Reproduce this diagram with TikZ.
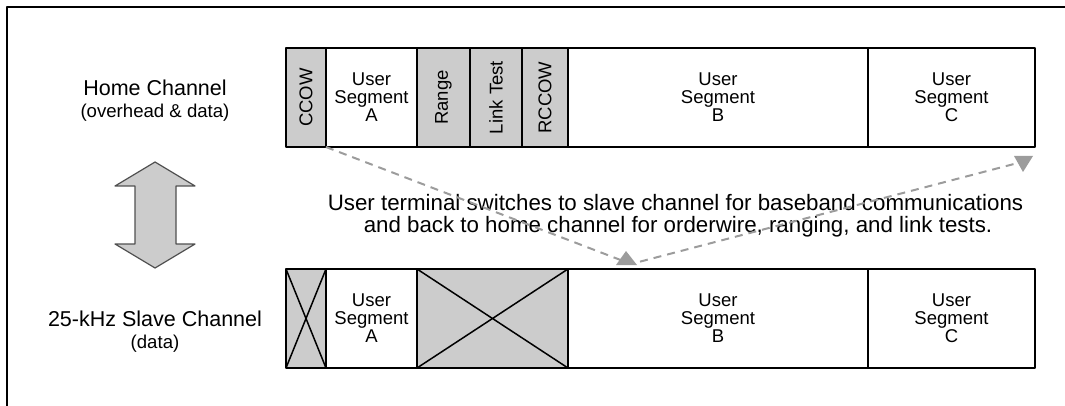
\documentclass[tikz,border=0pt]{standalone}
\usepackage{fontspec}
\setmainfont{Liberation Sans}
\definecolor{cellgray}{HTML}{CCCCCC}
\definecolor{dashgray}{HTML}{9C9C9C}
\definecolor{arrowedge}{HTML}{505050}
\newcommand{\celltxt}{\fontsize{18.5}{18}\selectfont}
\newcommand{\sidetxt}{\fontsize{18.5}{18.5}\selectfont}
\newcommand{\chantxt}{\fontsize{21.5}{21.5}\selectfont}
\newcommand{\subtxt}{\fontsize{18.6}{18.6}\selectfont}
\newcommand{\captxt}{\fontsize{22.3}{22.3}\selectfont}
\tikzset{
  cell/.style={draw, line width=1.8pt, minimum height=99pt, inner sep=0pt, outer sep=0pt, align=center, font=\celltxt},
  ohcell/.style={cell, fill=cellgray},
  switchline/.style={dashgray, line width=2pt, dash pattern=on 8pt off 6pt},
  xline/.style={line width=1.5pt}
}
\begin{document}
\begin{tikzpicture}[x=1pt, y=-1pt, line join=round]
\useasboundingbox (0,0) rectangle (1065,406);
\draw[line width=2.2pt] (7,406) -- (7,7) -- (1065,7);
\node[anchor=base, font=\chantxt] (home) at (155,96) {Home Channel};
\node[anchor=base, font=\subtxt] (homesub) at (155,118) {(overhead \& data)};
\node[anchor=base, font=\chantxt] (slave) at (155,326) {25-kHz Slave Channel};
\node[anchor=base, font=\subtxt] (slavesub) at (155,348) {(data)};
\draw[fill=cellgray, draw=arrowedge, line width=1.2pt] (155,162) -- (195,186) -- (176,186) -- (176,244) -- (195,244) -- (155,268)
  -- (115,244) -- (135,244) -- (135,186) -- (115,186) -- cycle;
\node[ohcell, minimum width=40pt] (ccowH) at (306,97.5) {\rotatebox{90}{\sidetxt CCOW}};
\node[cell, minimum width=91pt] (usaH) at (371.5,97.5) {User\\Segment\\A};
\node[ohcell, minimum width=53pt] (rngH) at (443.5,97.5) {\rotatebox{90}{\sidetxt Range}};
\node[ohcell, minimum width=52pt] (lnkH) at (496,97.5) {\rotatebox{90}{\sidetxt Link Test}};
\node[ohcell, minimum width=46pt] (rccH) at (545,97.5) {\rotatebox{90}{\sidetxt RCCOW}};
\node[cell, minimum width=300pt] (usbH) at (718,97.5) {User\\Segment\\B};
\node[cell, minimum width=167pt] (uscH) at (951.5,97.5) {User\\Segment\\C};
\node[ohcell, minimum width=40pt] (x1S) at (306,318.5) {};
\node[cell, minimum width=91pt] (usaS) at (371.5,318.5) {User\\Segment\\A};
\node[ohcell, minimum width=151pt] (x2S) at (492.5,318.5) {};
\node[cell, minimum width=300pt] (usbS) at (718,318.5) {User\\Segment\\B};
\node[cell, minimum width=167pt] (uscS) at (951.5,318.5) {User\\Segment\\C};
\draw[xline] (x1S.north west) -- (x1S.south east) (x1S.north east) -- (x1S.south west);
\draw[xline] (x2S.north west) -- (x2S.south east) (x2S.north east) -- (x2S.south west);
\node[anchor=base, font=\captxt] (cap1) at (675.5,211) {User terminal switches to slave channel for baseband communications};
\node[anchor=base, font=\captxt] (cap2) at (678,233) {and back to home channel for orderwire, ranging, and link tests.};
\coordinate (turn) at (631,264);
\coordinate (back) at (1014,164);
\draw[switchline] (ccowH.south east) -- (turn) -- (back);
\fill[dashgray] (626,251) -- (637,265) -- (616,265) -- cycle;
\fill[dashgray] (1014,156) -- (1033,156) -- (1023,172) -- cycle;
\end{tikzpicture}
\end{document}
